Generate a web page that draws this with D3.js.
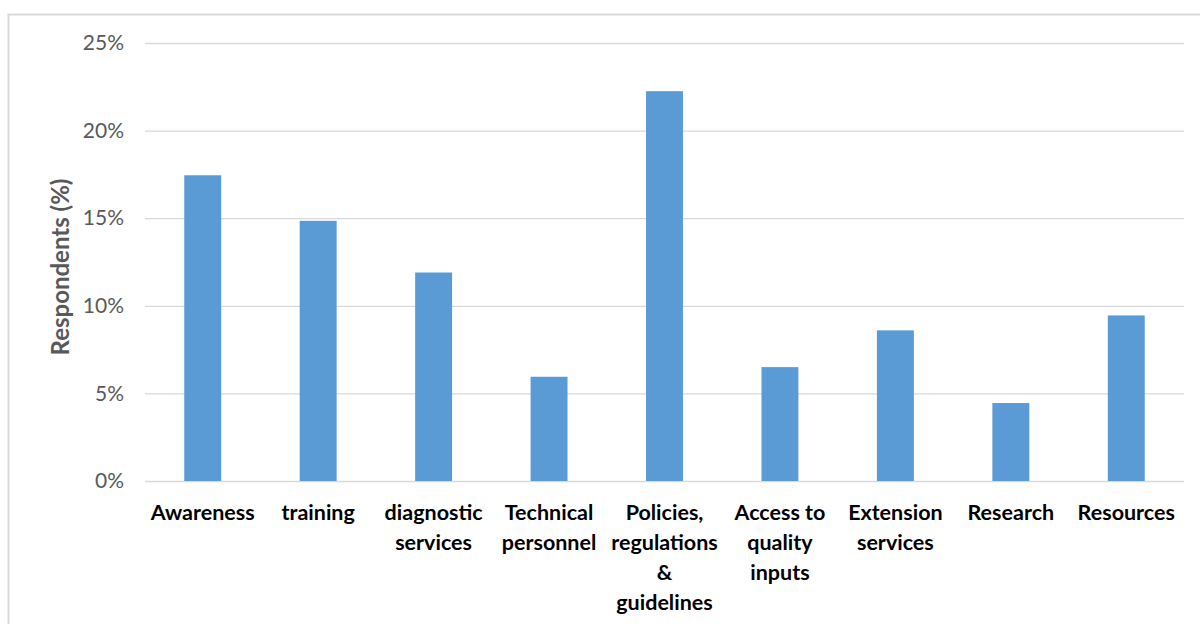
<!DOCTYPE html>
<html><head><meta charset="utf-8">
<script src="https://cdn.jsdelivr.net/npm/d3@7"></script>
<style>
html,body{margin:0;padding:0;background:#fff;}
svg{display:block;}
text{font-family:Lato,"Open Sans",sans-serif;}
</style></head><body>
<svg id="chart" width="1200" height="624"></svg>
<script>
const categories = [
  ["Awareness"],
  ["training"],
  ["diagnostic","services"],
  ["Technical","personnel"],
  ["Policies,","regulations","&","guidelines"],
  ["Access to","quality","inputs"],
  ["Extension","services"],
  ["Research"],
  ["Resources"]
];
const values = [17.45, 14.85, 11.9, 5.95, 22.25, 6.5, 8.6, 4.45, 9.45];
const yTicks = [0, 5, 10, 15, 20, 25];
const yTitle = "Respondents (%)";

const svg = d3.select("#chart");
// outer frame
svg.append("rect").attr("x",8.5).attr("y",14.5).attr("width",1250).attr("height",700)
  .attr("fill","none").attr("stroke","#d9d9d9").attr("stroke-width",2);

const pLeft = 145, pRight = 1184, pTop = 43, pBottom = 481;
const x = d3.scaleBand().domain(d3.range(categories.length)).range([pLeft,pRight]).paddingInner(0.68).paddingOuter(0.34);
const y = d3.scaleLinear().domain([0,25]).range([pBottom,pTop]);

// gridlines
const yAxis = d3.axisLeft(y).tickValues(yTicks).tickFormat(d=>d+"%").tickSize(-(pRight-pLeft)).tickPadding(21);
const gy = svg.append("g").attr("transform",`translate(${pLeft},0)`).call(yAxis);
gy.select(".domain").remove();
gy.selectAll(".tick line").attr("stroke","#d9d9d9").attr("stroke-width",1.3);
gy.selectAll(".tick text").attr("fill","#595959").style("font-size","21px").style("font-family","Lato,sans-serif");

// bars
svg.append("g").selectAll("rect").data(values).join("rect")
  .attr("x",(d,i)=>x(i)).attr("width",x.bandwidth())
  .attr("y",d=>y(d)).attr("height",d=>pBottom-y(d))
  .attr("fill","#5b9bd5");

// x labels
const xl = svg.append("g");
categories.forEach((lines,i)=>{
  const t = xl.append("text").attr("text-anchor","middle")
    .attr("fill","#000").style("font-size","21.5px").style("font-weight","bold");
  lines.forEach((ln,j)=>{
    t.append("tspan").attr("x",x(i)+x.bandwidth()/2).attr("y",520+j*30).text(ln);
  });
});

// y title
svg.append("text").attr("transform",`translate(69,${(pTop+pBottom)/2+5}) rotate(-90)`)
  .attr("text-anchor","middle").attr("fill","#595959")
  .style("font-size","24px").style("font-weight","bold").text(yTitle);
</script>
</body></html>
